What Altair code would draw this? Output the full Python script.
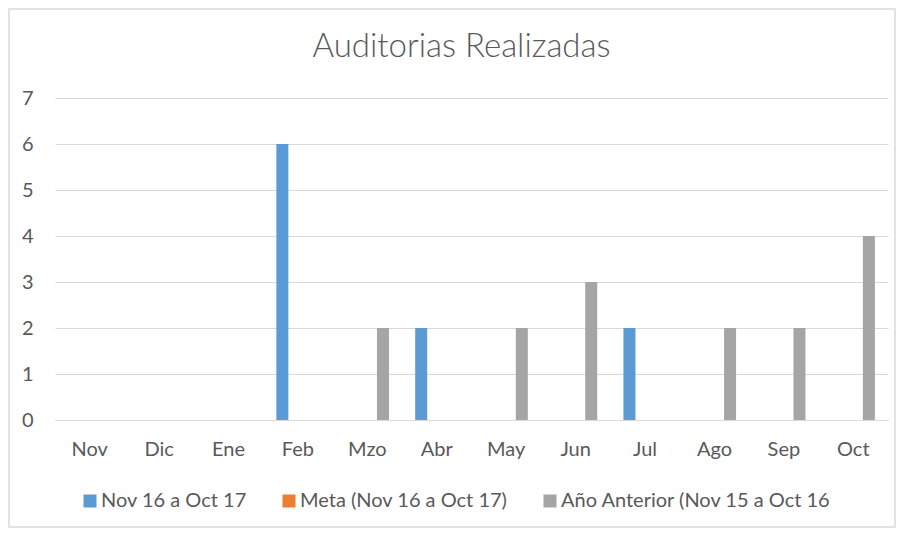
import altair as alt
import pandas as pd

months = ["Nov", "Dic", "Ene", "Feb", "Mzo", "Abr", "May", "Jun", "Jul", "Ago", "Sep", "Oct"]
series_names = ["Nov 16 a Oct 17", "Meta (Nov 16 a Oct 17)", "Año Anterior (Nov 15 a Oct 16"]
actual = [0, 0, 0, 6, 0, 2, 0, 0, 2, 0, 0, 0]
meta = [0, 0, 0, 0, 0, 0, 0, 0, 0, 0, 0, 0]
previous = [0, 0, 0, 0, 2, 0, 2, 3, 0, 2, 2, 4]
colors = ["#5B9BD5", "#ED7D31", "#A5A5A5"]
y_ticks = [0, 1, 2, 3, 4, 5, 6, 7]

rows = []
for name, vals in zip(series_names, [actual, meta, previous]):
    for m, v in zip(months, vals):
        rows.append({"Mes": m, "Serie": name, "Valor": v})
df = pd.DataFrame(rows)

FONT = "Lato"
TXT = "#595959"

bars = alt.Chart(df).mark_bar().encode(
    x=alt.X("Mes:N", sort=months, title=None,
            scale=alt.Scale(paddingInner=0, paddingOuter=0),
            axis=alt.Axis(labelAngle=0, labelFont=FONT, labelFontSize=20, labelColor=TXT,
                          labelPadding=19, ticks=False, domain=True, domainColor="#D9D9D9",
                          domainWidth=1, grid=False)),
    xOffset=alt.XOffset("Serie:N", sort=series_names,
                        scale=alt.Scale(paddingInner=0.23, paddingOuter=0.84)),
    y=alt.Y("Valor:Q", title=None,
            scale=alt.Scale(domain=[0, 7], nice=False),
            axis=alt.Axis(values=y_ticks, labelFont=FONT, labelFontSize=20, labelColor=TXT,
                          labelPadding=22, ticks=False, domain=False, gridColor="#D9D9D9",
                          gridWidth=1)),
    color=alt.Color("Serie:N", sort=series_names,
                    scale=alt.Scale(domain=series_names, range=colors),
                    legend=alt.Legend(title=None, orient="none", direction="horizontal",
                                      legendX=25, legendY=393,
                                      symbolType="square", symbolSize=169,
                                      symbolStrokeWidth=0,
                                      labelFont=FONT, labelFontSize=20, labelColor=TXT,
                                      labelOffset=1, columnPadding=32, labelLimit=500)),
)

border = alt.Chart(pd.DataFrame({"a": [0]})).mark_rect(
    fill=None, stroke="#D9D9D9", strokeWidth=1.5
).encode(
    x=alt.value(-46), x2=alt.value(840), y=alt.value(-89), y2=alt.value(429)
)

chart = alt.layer(border, bars).properties(
    width=833,
    height=322,
    padding={"left": 47, "top": 90, "right": 8, "bottom": 108},
    autosize=alt.AutoSizeParams(type="none"),
    title=alt.Title("Auditorias Realizadas", font=FONT, fontSize=33, fontWeight=300,
                    color=TXT, anchor="middle", baseline="alphabetic", offset=-82, dx=-10),
).configure_view(stroke=None)

chart.save("out.html", embed_options={"renderer": "svg", "actions": False})
